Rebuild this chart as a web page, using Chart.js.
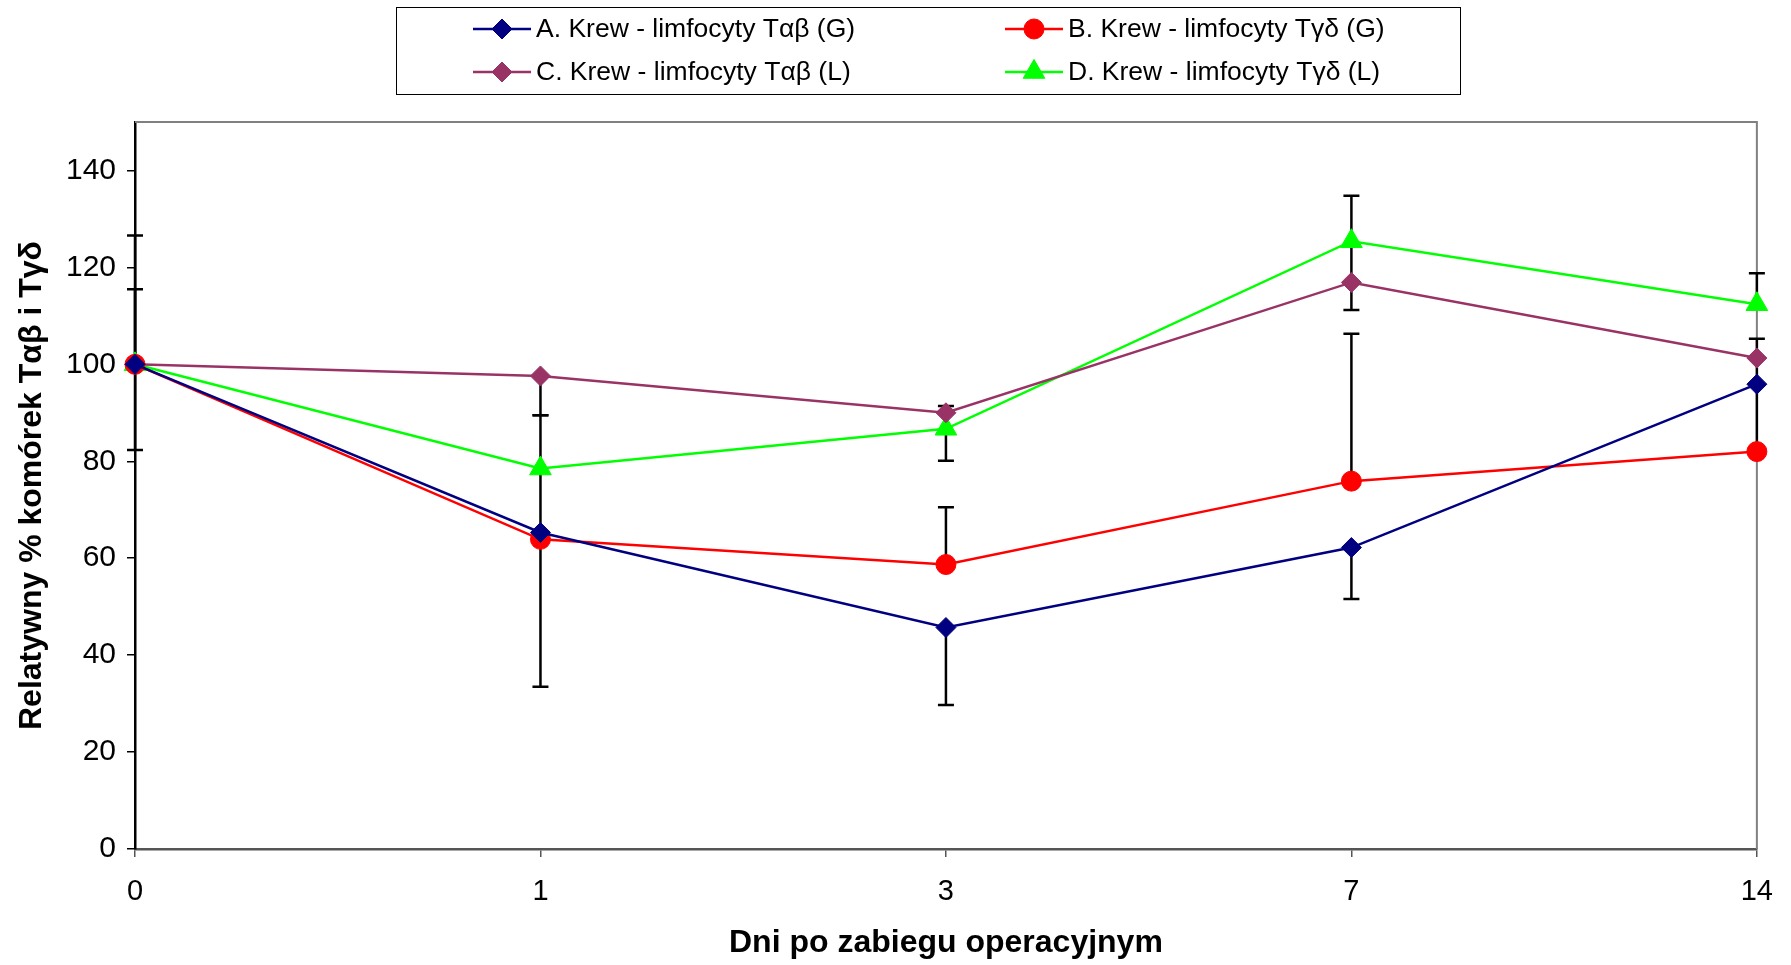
<!DOCTYPE html>
<html lang="pl">
<head>
<meta charset="utf-8">
<title>Limfocyty Tαβ i Tγδ</title>
<script src="https://cdn.jsdelivr.net/npm/chart.js@4.4.1/dist/chart.umd.min.js"></script>
<style>
  html, body { margin: 0; padding: 0; background: #fff; }
  #wrap { width: 1791px; height: 965px; }
</style>
</head>
<body>
<div id="wrap"><canvas id="chart" width="1791" height="965"></canvas></div>
<script>
// dni po zabiegu i podziałka osi Y
const days = ["0", "1", "3", "7", "14"];
const yTicks = [0, 20, 40, 60, 80, 100, 120, 140];

// wartości względne (%), dzień 0 = 100
const tabG = [100, 65.3, 45.7, 62.2, 95.9];
const tgdG = [100, 63.9, 58.7, 75.9, 82.0];
const tabL = [100, 97.6, 90.0, 116.9, 101.3];
const tgdL = [100, 78.5, 86.7, 125.4, 112.4];

// słupki błędów (w górę / w dół)
const tabGPlus = [0, 0, 0, 0, 0];
const tabGMinus = [17.7, 31.8, 16.0, 10.6, 13.9];
const tgdGPlus = [0, 0, 11.8, 30.4, 0];
const tgdGMinus = [0, 0, 0, 0, 0];
const tabLPlus = [15.5, 0, 1.4, 0, 4.0];
const tabLMinus = [0, 8.1, 0, 5.7, 5.4];
const tgdLPlus = [26.6, 11.0, 0, 9.4, 6.4];
const tgdLMinus = [0, 13.0, 6.6, 8.5, 0];

const FONT = "'Liberation Sans', Arial, sans-serif";

function series(label, data, color, style, radius, plus, minus) {
  return {
    label: label,
    data: data,
    borderColor: color,
    backgroundColor: color,
    borderWidth: 2.5,
    pointStyle: style,
    pointRadius: radius,
    pointHoverRadius: radius,
    pointBorderWidth: 1,
    tension: 0,
    clip: false,
    errPlus: plus,
    errMinus: minus
  };
}

// szara ramka obszaru wykresu (góra i prawa strona)
const plotFrame = {
  id: "plotFrame",
  beforeDatasetsDraw(chart) {
    const a = chart.chartArea;
    const ctx = chart.ctx;
    ctx.save();
    ctx.strokeStyle = "#808080";
    ctx.lineWidth = 2;
    ctx.beginPath();
    ctx.moveTo(a.left, a.top);
    ctx.lineTo(a.right, a.top);
    ctx.lineTo(a.right, a.bottom);
    ctx.stroke();
    ctx.restore();
  }
};

// słupki błędów rysowane pod znacznikami
const errorBars = {
  id: "errorBars",
  beforeDatasetsDraw(chart) {
    const ctx = chart.ctx;
    const xs = chart.scales.x;
    const ys = chart.scales.y;
    ctx.save();
    ctx.strokeStyle = "#000";
    ctx.lineWidth = 2.5;
    chart.data.datasets.forEach(ds => {
      ds.data.forEach((v, i) => {
        const px = xs.getPixelForValue(i);
        [[ds.errPlus[i], 1], [ds.errMinus[i], -1]].forEach(([e, sign]) => {
          if (!e) return;
          const y0 = ys.getPixelForValue(v);
          const y1 = ys.getPixelForValue(v + sign * e);
          ctx.beginPath();
          ctx.moveTo(px, y0);
          ctx.lineTo(px, y1);
          ctx.moveTo(px - 8, y1);
          ctx.lineTo(px + 8, y1);
          ctx.stroke();
        });
      });
    });
    ctx.restore();
  }
};

// legenda w ramce, dwie kolumny
const legendBox = {
  id: "legendBox",
  afterDraw(chart) {
    const ctx = chart.ctx;
    ctx.save();
    ctx.fillStyle = "#fff";
    ctx.fillRect(396, 7, 1064, 87);
    ctx.strokeStyle = "#000";
    ctx.lineWidth = 1;
    ctx.strokeRect(396.5, 7.5, 1064, 87);
    ctx.font = "26.5px " + FONT;
    ctx.textBaseline = "middle";
    chart.data.datasets.forEach((ds, i) => {
      const x0 = i % 2 === 0 ? 473 : 1005;
      const y = i < 2 ? 29 : 72;
      ctx.strokeStyle = ds.borderColor;
      ctx.lineWidth = 2.5;
      ctx.beginPath();
      ctx.moveTo(x0, y);
      ctx.lineTo(x0 + 58, y);
      ctx.stroke();
      ctx.fillStyle = ds.backgroundColor;
      ctx.lineWidth = 1;
      Chart.helpers.drawPoint(ctx, { pointStyle: ds.pointStyle, radius: ds.pointRadius, borderWidth: 1 }, x0 + 29, y);
      ctx.fillStyle = "#000";
      ctx.fillText(ds.label, x0 + 63, y + 1);
    });
    ctx.restore();
  }
};

new Chart(document.getElementById("chart"), {
  type: "line",
  data: {
    labels: days,
    datasets: [
      series("A. Krew - limfocyty Tαβ (G)", tabG, "#000080", "rectRot", 10, tabGPlus, tabGMinus),
      series("B. Krew - limfocyty Tγδ (G)", tgdG, "#ff0000", "circle", 10, tgdGPlus, tgdGMinus),
      series("C. Krew - limfocyty Tαβ (L)", tabL, "#993366", "rectRot", 10, tabLPlus, tabLMinus),
      series("D. Krew - limfocyty Tγδ (L)", tgdL, "#00ff00", "triangle", 12.5, tgdLPlus, tgdLMinus)
    ]
  },
  options: {
    responsive: false,
    animation: false,
    devicePixelRatio: 1,
    layout: { padding: { top: 122, right: 34, bottom: 0, left: 0 } },
    plugins: {
      legend: { display: false },
      tooltip: { enabled: false }
    },
    scales: {
      x: {
        offset: false,
        grid: { drawOnChartArea: false, tickLength: 8, color: "#555", lineWidth: 1.5 },
        border: { color: "#555", width: 2.5 },
        ticks: { color: "#000", font: { family: FONT, size: 29 }, padding: 18, maxRotation: 0 },
        title: {
          display: true,
          text: "Dni po zabiegu operacyjnym",
          color: "#000",
          font: { family: FONT, size: 32, weight: "bold" },
          padding: { top: 0, bottom: 3 }
        },
        afterFit(scale) { scale.height = 116; }
      },
      y: {
        min: 0,
        max: 150,
        grid: { drawOnChartArea: false, tickLength: 8, color: "#000", lineWidth: 1.5 },
        border: { color: "#000", width: 2.5 },
        ticks: { color: "#000", font: { family: FONT, size: 30 }, padding: 11 },
        afterBuildTicks(axis) { axis.ticks = yTicks.map(v => ({ value: v })); },
        title: {
          display: true,
          text: "Relatywny % komórek Tαβ i Tγδ",
          color: "#000",
          font: { family: FONT, size: 32, weight: "bold" },
          padding: { top: 13, bottom: 0 }
        },
        afterFit(scale) { scale.width = 135; }
      }
    }
  },
  plugins: [plotFrame, errorBars, legendBox]
});
</script>
</body>
</html>
